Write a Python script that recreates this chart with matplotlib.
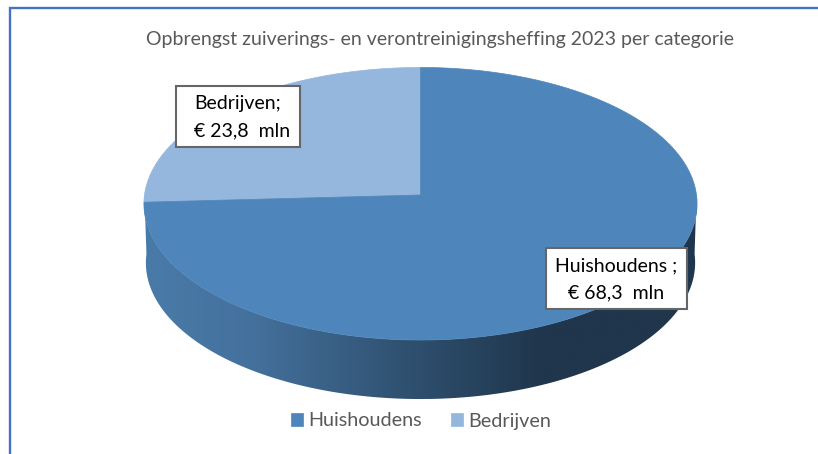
import numpy as np
import matplotlib
matplotlib.use("Agg")
import matplotlib.pyplot as plt
from matplotlib.colors import LinearSegmentedColormap
from matplotlib.patches import Polygon, Rectangle

plt.rcParams['font.family'] = ['Lato', 'DejaVu Sans']

# ------------------------------------------
# Data
# ------------------------------------------

title = "Opbrengst zuiverings- en verontreinigingsheffing 2023 per categorie"
categories = ["Bedrijven", "Huishoudens"]
values = [23.8, 68.3]
label_names = ["Bedrijven;", "Huishoudens ;"]

pie_colors = ["#95b6dd", "#4e86bb"]
text_grey = "#595959"
frame_blue = "#4472c4"

# ------------------------------------------
# Pie geometry (pixels), tilted disc with a bit of perspective
# ------------------------------------------

cx = 420.5
half_width = 276.0
apex_y = 195.0
persp = 0.0642
tilt = -123.2
depth = 59.0


def rim(theta, drop=0.0, shrink=1.0):
    u = np.cos(theta)
    v = np.sin(theta)
    w = 1 + persp * v
    return np.column_stack([cx + half_width * shrink * u / w,
                            (tilt * v + apex_y) / w + drop])


fig = plt.figure(figsize=(8.18, 4.54), dpi=100)
ax = fig.add_axes([0, 0, 1, 1])
ax.set_xlim(0, 818)
ax.set_ylim(454, 0)
ax.axis("off")

# ------------------------------------------
# Frame
# ------------------------------------------

ax.plot([10, 10, 818], [454, 8, 8], color=frame_blue, lw=1.7, solid_joinstyle="miter")

# ------------------------------------------
# Side wall with shading
# ------------------------------------------

front = np.radians(np.linspace(180, 360, 200))
side = np.vstack([rim(front, depth, 0.993), rim(front[::-1])])
side_patch = Polygon(side, closed=True, fc="none", ec="none")
ax.add_patch(side_patch)

shade = LinearSegmentedColormap.from_list(
    "shade",
    [(0.0, "#4a7ba8"), (0.2, "#44709c"), (0.5, "#2d4e6c"), (0.72, "#20364c"), (1.0, "#20364c")])
img = ax.imshow(np.linspace(0, 1, 512).reshape(1, -1), cmap=shade, aspect="auto",
                extent=[144, 697, 454, 0], zorder=1)
ax.set_xlim(0, 818)
ax.set_ylim(454, 0)
img.set_clip_path(side_patch)

# ------------------------------------------
# Top face slices
# ------------------------------------------

shares = np.array(values) / sum(values)
start = np.pi / 2
handles = []
for name, share, color in zip(categories, shares, pie_colors):
    theta = np.linspace(start, start + 2 * np.pi * share, 300)
    pts = np.vstack([[cx, apex_y], rim(theta)])
    handles.append(ax.add_patch(Polygon(pts, closed=True, fc=color, ec=color, lw=0.5, zorder=2, label=name)))
    start = theta[-1]

# ------------------------------------------
# Title, labels, legend
# ------------------------------------------

ax.text(440, 39, title, ha="center", va="center", fontsize=14.05, color=text_grey)

boxes = [(176, 86, 124, 61), (546, 248, 141, 61)]
for i, (x, y, w, h) in enumerate(boxes):
    ax.add_patch(Rectangle((x, y), w, h, fc="white", ec="#666666", lw=1.5, zorder=3))

amount = [f"€ {v:.1f}  mln".replace(".", ",") for v in values]
ax.text(194, 104, label_names[0], fontsize=14, va="center", ha="left", color="black", zorder=4)
ax.text(194, 131, amount[0], fontsize=14, va="center", ha="left", color="black", zorder=4)
ax.text(616.5, 266, label_names[1], fontsize=14, va="center", ha="center", color="black", zorder=4)
ax.text(616.5, 293, amount[1], fontsize=14, va="center", ha="center", color="black", zorder=4)

ax.legend(handles[::-1], categories[::-1], ncol=2, frameon=False, loc="center",
          bbox_to_anchor=(421 / 818, 1 - 421 / 454), fontsize=14.2, labelcolor=text_grey,
          handlelength=0.62, handleheight=0.62, handletextpad=0.27, columnspacing=1.45)

plt.savefig("out.png", dpi=100)
